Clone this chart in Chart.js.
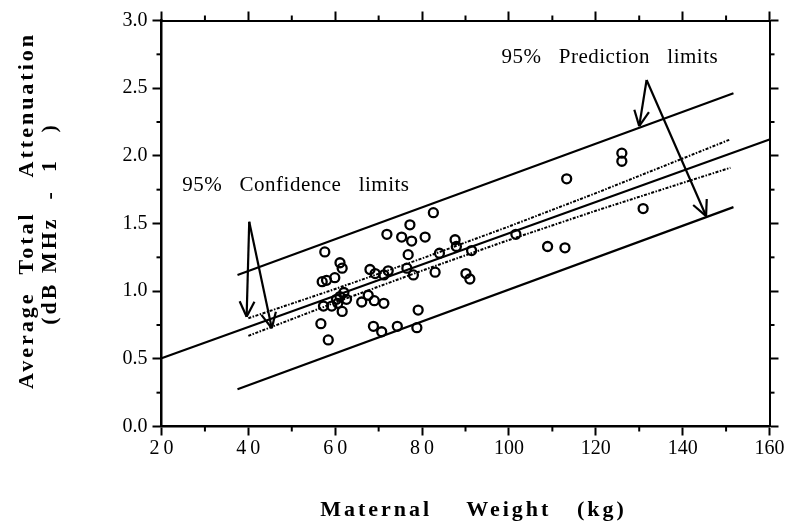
<!DOCTYPE html>
<html>
<head>
<meta charset="utf-8">
<script src="https://cdn.jsdelivr.net/npm/chart.js@4.4.1/dist/chart.umd.min.js"></script>
<style>
  html, body { margin: 0; padding: 0; background: #fff; }
</style>
</head>
<body>
<canvas id="chart" width="793" height="527"></canvas>
<script>
// measured points: maternal weight (kg) vs average total attenuation (dB MHz-1)
const weightKg = [57.6, 61.1, 61.6, 57.0, 58.0, 59.9, 56.7, 58.4, 57.3, 59.2, 60.3, 61.1, 62.0, 62.6, 61.6, 60.6,
  66.1, 67.6, 68.0, 69.2, 71.2, 72.2, 69.0, 71.2, 71.9, 68.8, 70.7, 74.3, 78.8, 79.1, 75.3, 77.2, 77.6, 80.7,
  82.6, 76.8, 76.5, 78.0, 83.0, 84.0, 87.6, 87.9, 90.1, 91.0, 91.4, 101.6, 108.9, 112.9, 113.3, 126.0, 126.0, 130.9];
const attenuation = [1.29, 1.21, 1.17, 1.07, 1.08, 1.10, 0.76, 0.64, 0.89, 0.89, 0.94, 0.96, 0.99, 0.94, 0.85, 0.91,
  0.92, 0.97, 1.16, 1.13, 1.12, 1.15, 0.93, 0.91, 1.42, 0.74, 0.70, 0.74, 0.73, 0.86, 1.40, 1.49, 1.37, 1.40,
  1.58, 1.27, 1.17, 1.12, 1.14, 1.28, 1.38, 1.33, 1.13, 1.09, 1.30, 1.42, 1.33, 1.32, 1.83, 2.02, 1.96, 1.61];

// regression line
const fitWeight = [20, 160];
const fitAtten = [0.504, 2.121];

// 95% prediction limits
const predWeight = [37.5, 151.7];
const predUpper = [1.119, 2.462];
const predLower = [0.275, 1.621];

// 95% confidence limits
const confWeight = [40, 60, 80, 100, 120, 140, 151];
const confUpper = [0.80, 1.016, 1.242, 1.478, 1.724, 1.98, 2.122];
const confLower = [0.67, 0.916, 1.152, 1.378, 1.594, 1.80, 1.912];

// axes
const xTickLabels = ['2\u20090', '4\u20090', '6\u20090', '8\u20090', '100', '120', '140', '160'];
const yTickLabels = ['0.0', '0.5', '1.0', '1.5', '2.0', '2.5', '3.0'];
const xMinorTicks = [30, 50, 70, 90, 110, 130, 150];
const yMinorTicks = [0.25, 0.75, 1.25, 1.75, 2.25, 2.75];

// annotations (data units)
const notes = [
  { text: '95%   Prediction   limits', x: 98.3, y: 2.688 },
  { text: '95%   Confidence   limits', x: 24.8, y: 1.742 }
];
const arrows = [
  { from: [131.7, 2.56], to: [130.0, 2.22] },
  { from: [131.7, 2.56], to: [145.4, 1.555] },
  { from: [40.2, 1.513], to: [39.6, 0.811] },
  { from: [40.2, 1.513], to: [45.4, 0.726] }
];

const xTitle = 'Maternal    Weight   (kg)';
const yTitle1 = 'Average  Total    Attenuation';
const yTitle2 = '(dB MHz  -  1   )';

const toPts = (xs, ys) => xs.map((v, i) => ({ x: v, y: ys[i] }));

const lineSet = (data, dash, width) => ({
  data: data,
  showLine: true,
  borderColor: '#000',
  borderWidth: width,
  borderDash: dash,
  pointRadius: 0,
  fill: false
});

const notesPlugin = {
  id: 'notes',
  afterDraw(chart) {
    const ctx = chart.ctx;
    const a = chart.chartArea;
    const x = chart.scales.x, y = chart.scales.y;
    const seg = (x1, y1, x2, y2) => {
      ctx.beginPath(); ctx.moveTo(x1, y1); ctx.lineTo(x2, y2); ctx.stroke();
    };
    ctx.save();
    ctx.strokeStyle = '#000';
    ctx.fillStyle = '#000';

    // minor ticks
    ctx.lineWidth = 2;
    xMinorTicks.forEach(v => {
      const px = x.getPixelForValue(v);
      seg(px, a.bottom, px, a.bottom + 5);
      seg(px, a.top, px, a.top - 5);
    });
    yMinorTicks.forEach(v => {
      const py = y.getPixelForValue(v);
      seg(a.left, py, a.left - 5, py);
      seg(a.right, py, a.right + 5, py);
    });

    // arrows
    ctx.lineWidth = 2.2;
    arrows.forEach(ar => {
      const x1 = x.getPixelForValue(ar.from[0]), y1 = y.getPixelForValue(ar.from[1]);
      const x2 = x.getPixelForValue(ar.to[0]), y2 = y.getPixelForValue(ar.to[1]);
      seg(x1, y1, x2, y2);
      const ang = Math.atan2(y2 - y1, x2 - x1);
      const len = 17, spread = 0.45;
      seg(x2, y2, x2 - len * Math.cos(ang - spread), y2 - len * Math.sin(ang - spread));
      seg(x2, y2, x2 - len * Math.cos(ang + spread), y2 - len * Math.sin(ang + spread));
    });

    // notes
    ctx.font = '21px "Liberation Serif"';
    ctx.letterSpacing = '0.5px';
    ctx.textAlign = 'left';
    ctx.textBaseline = 'alphabetic';
    notes.forEach(n => {
      ctx.fillText(n.text, x.getPixelForValue(n.x), y.getPixelForValue(n.y));
    });

    // axis titles
    ctx.font = 'bold 22px "Liberation Serif"';
    ctx.letterSpacing = '3px';
    ctx.textAlign = 'center';
    ctx.textBaseline = 'middle';
    ctx.fillText(xTitle, (a.left + a.right) / 2 + 8, 510);
    const cy = (a.top + a.bottom) / 2;
    ctx.save();
    ctx.translate(27, cy - 13);
    ctx.rotate(-Math.PI / 2);
    ctx.fillText(yTitle1, 0, 0);
    ctx.restore();
    ctx.save();
    ctx.translate(50, cy);
    ctx.rotate(-Math.PI / 2);
    ctx.fillText(yTitle2, 0, 0);
    ctx.restore();

    ctx.restore();
  }
};

const tickFont = { family: 'Liberation Serif', size: 20 };
const gridOpts = {
  drawOnChartArea: false,
  drawTicks: true,
  tickLength: 9,
  tickWidth: 2,
  tickColor: '#000',
  color: '#000'
};

new Chart(document.getElementById('chart'), {
  type: 'scatter',
  data: {
    datasets: [
      {
        data: toPts(weightKg, attenuation),
        pointRadius: 4.5,
        pointHoverRadius: 4.5,
        pointBorderWidth: 2.3,
        pointBorderColor: '#000',
        pointBackgroundColor: 'rgba(0,0,0,0)'
      },
      lineSet(toPts(fitWeight, fitAtten), [], 2.2),
      lineSet(toPts(predWeight, predUpper), [], 2.2),
      lineSet(toPts(predWeight, predLower), [], 2.2),
      lineSet(toPts(confWeight, confUpper), [3, 1.5, 1.5, 1.5], 2),
      lineSet(toPts(confWeight, confLower), [3, 1.5, 1.5, 1.5], 2)
    ]
  },
  options: {
    responsive: false,
    animation: false,
    layout: { padding: { top: 20.5, right: 23.5, left: 0, bottom: 0 } },
    plugins: {
      legend: { display: false },
      tooltip: { enabled: false }
    },
    scales: {
      x: {
        type: 'linear',
        position: 'bottom',
        min: 20,
        max: 160,
        afterFit: s => { s.height = 100.5; },
        ticks: {
          stepSize: 20,
          autoSkip: false,
          maxRotation: 0,
          padding: 1,
          color: '#000',
          font: tickFont,
          callback: (v, i) => xTickLabels[i]
        },
        grid: gridOpts,
        border: { display: true, color: '#000', width: 2.5 }
      },
      x2: {
        type: 'linear',
        position: 'top',
        min: 20,
        max: 160,
        afterFit: s => { s.height = 0; },
        ticks: { stepSize: 20, display: false },
        grid: gridOpts,
        border: { display: true, color: '#000', width: 2 }
      },
      y: {
        type: 'linear',
        position: 'left',
        min: 0,
        max: 3,
        afterFit: s => { s.width = 161.5; },
        ticks: {
          stepSize: 0.5,
          padding: 5,
          color: '#000',
          font: tickFont,
          callback: (v, i) => yTickLabels[i]
        },
        grid: gridOpts,
        border: { display: true, color: '#000', width: 2.5 }
      },
      y2: {
        type: 'linear',
        position: 'right',
        min: 0,
        max: 3,
        afterFit: s => { s.width = 0; },
        ticks: { stepSize: 0.5, display: false },
        grid: gridOpts,
        border: { display: true, color: '#000', width: 2 }
      }
    }
  },
  plugins: [notesPlugin]
});
</script>
</body>
</html>
